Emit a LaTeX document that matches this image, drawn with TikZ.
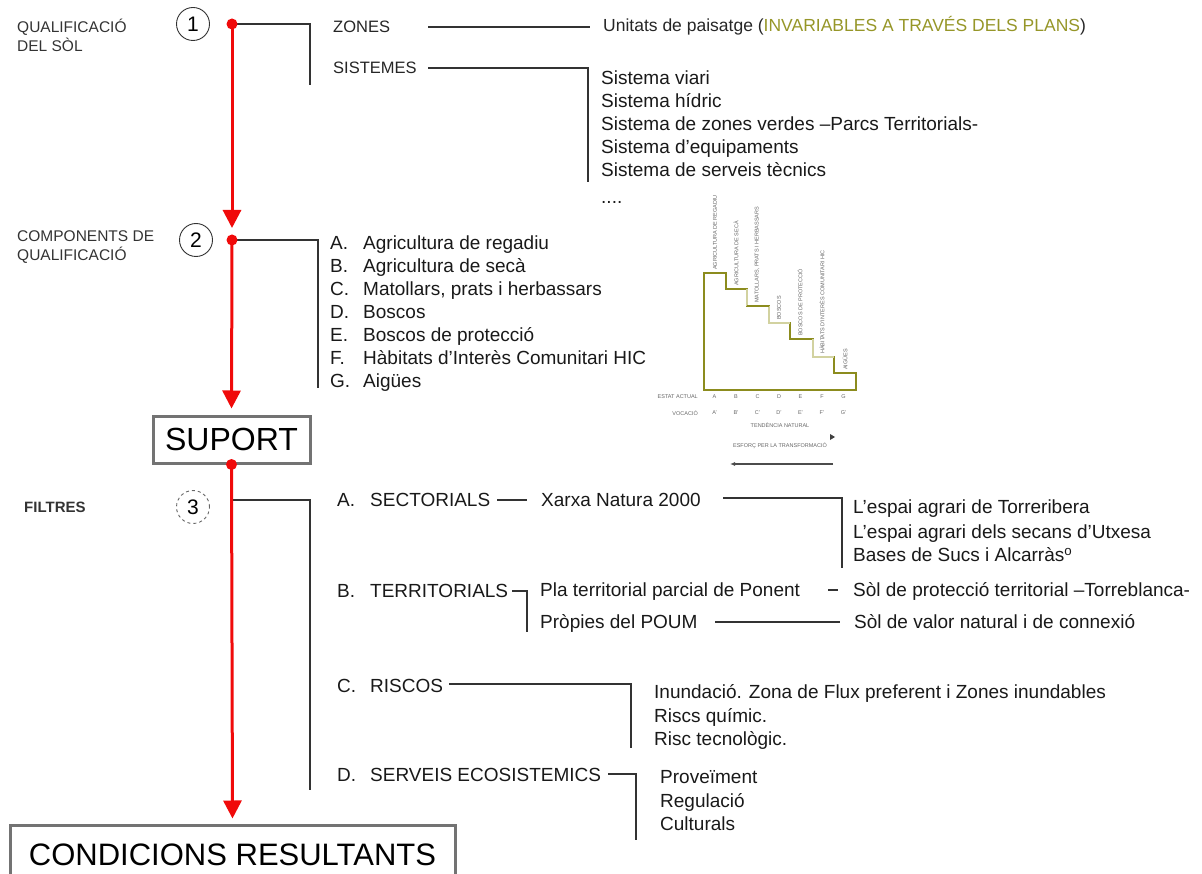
\documentclass[tikz,border=0pt]{standalone}
\usepackage{fontspec}
\setmainfont{Liberation Sans}
\usetikzlibrary{arrows.meta, positioning, calc}
\definecolor{flowred}{RGB}{240,10,10}
\definecolor{olivedark}{RGB}{140,140,30}
\definecolor{olivelight}{RGB}{210,210,160}
\definecolor{olivetext}{RGB}{150,150,40}
\definecolor{boxgray}{RGB}{115,115,115}
\tikzset{
  txt/.style={font=\fontsize{19}{21}\selectfont, inner sep=0pt, anchor=west, text=black!90, text height=13.6pt, text depth=0pt},
  smalltxt/.style={font=\fontsize{16.5}{18}\selectfont, inner sep=0pt, anchor=west, text=black!85, text height=11.8pt, text depth=0pt},
  head/.style={font=\fontsize{15.5}{19}\selectfont, inner sep=0pt, anchor=west, align=left, text=black!80},
  numcirc/.style={circle, draw=black!80, line width=0.9pt, minimum size=33pt, inner sep=0pt, font=\fontsize{21}{21}\selectfont},
  flow/.style={draw=flowred, line width=3pt, -{Triangle[length=18pt,width=18pt]}},
  reddot/.style={circle, fill=flowred, inner sep=0pt, minimum size=11pt},
  link/.style={draw=black!80, line width=1.1pt},
  bigbox/.style={draw=boxgray, line width=3pt, inner sep=0pt},
  tinytxt/.style={font=\fontsize{5.5}{6}\selectfont, inner sep=0pt, text=black!60},
  stepline/.style={draw=olivedark, line width=1.6pt},
}
\begin{document}
\begin{tikzpicture}[x=1pt, y=-1pt]
    \useasboundingbox (0,0) rectangle (1202,874);

    % Level 1: qualificacio del sol
    \node[head] (qualif) at (17,35) {QUALIFICACIÓ\\DEL SÒL};
    \node[numcirc] (c1) at (193,24) {1};
    \coordinate (d1) at (232,24);
    \coordinate (b1) at (310,85);
    \draw[link] (d1) -| (b1);
    \node[smalltxt] (zones) at (333,27) {ZONES};
    \node[smalltxt, font=\fontsize{17.5}{19}\selectfont, text height=12.5pt] (unitats) at (603,25) {Unitats de paisatge (\textcolor{olivetext}{INVARIABLES A TRAVÉS DELS PLANS})};
    \draw[link] ([xshift=95pt]zones.west) -- ([xshift=-13pt]unitats.west |- zones.west);
    \node[smalltxt] (sistemes) at (333,68) {SISTEMES};
    \coordinate (s1) at (588,182);
    \draw[link] ([xshift=95pt]sistemes.west) -| (s1);
    % Sistemes list
    \foreach \t [count=\i] in {Sistema viari, Sistema hídric, Sistema de zones verdes –Parcs Territorials-, Sistema d’equipaments, Sistema de serveis tècnics} {
        \node[txt] (sys\i) at (601,55+23*\i) {\t};
    }
    \node[txt] (sysdots) at (601,197) {....};

    % Level 2: components de qualificacio
    \node[head] (comp) at (17,247) {COMPONENTS DE\\QUALIFICACIÓ};
    \node[numcirc] (c2) at (196,240) {2};
    \coordinate (d2) at (232,240);
    \coordinate (b2) at (318,388);
    \draw[link] (d2) -| (b2);
    \foreach \l/\t [count=\i] in {A/Agricultura de regadiu, B/Agricultura de secà, C/{Matollars, prats i herbassars}, D/Boscos, E/Boscos de protecció, F/Hàbitats d’Interès Comunitari HIC, G/Aigües} {
        \node[txt] (let\i) at (330,220+23*\i) {\l.};
        \node[txt] (comp\i) at (363,220+23*\i) {\t};
    }

    % Step chart
    \draw[stepline] (704,273) -- (726,273) -- (726,289) -- (747,289) -- (747,306) -- (769,306)
        -- (769,323) -- (790,323) -- (790,339) -- (813,339) -- (813,357) -- (834,357)
        -- (834,373) -- (856,373) -- (856,390) -- (704,390) -- cycle;
    \draw[olivelight, line width=1.6pt] (747,289) -- (747,306);
    \draw[olivelight, line width=1.6pt] (769,306) -- (769,323) -- (790,323);
    \draw[olivelight, line width=1.6pt] (813,339) -- (813,357) -- (834,357);
    \draw[olivedark, line width=2.4pt] (747,306) -- (769,306);
    \draw[olivedark, line width=2.4pt] (834,373) -- (856,373);
    \foreach \x/\y/\t in {715/270/AGRICULTURA DE REGADIU, 736/286/AGRICULTURA DE SECÀ, 757/303/{MATOLLARS, PRATS I HERBASSARS}, 779/320/BOSCOS, 800/336/BOSCOS DE PROTECCIÓ, 822/354/HÀBITATS D’INTERÈS COMUNITARI HIC, 845/370/AIGÜES} {
        \node[tinytxt, rotate=90, anchor=west] at (\x,\y) {\t};
    }
    \node[tinytxt, anchor=east] (estat) at (698,397) {ESTAT ACTUAL};
    \node[tinytxt, anchor=east] (vocacio) at (698,413) {VOCACIÓ};
    \foreach \l [count=\i] in {A,B,C,D,E,F,G} {
        \node[tinytxt] at (693+21.5*\i,397) {\l};
        \node[tinytxt] at (693+21.5*\i,413) {\l'};
    }
    \node[tinytxt] (tend) at (780,425) {TENDÈNCIA NATURAL};
    \fill[black!75] (830,434) -- (835,437) -- (830,440) -- cycle;
    \node[tinytxt] (esforc) at (780,446) {ESFORÇ PER LA TRANSFORMACIÓ};
    \draw[black!70, line width=1.2pt, -{Latex[length=5pt,width=4pt]}] (833,464) -- (730,464);

    % Suport box
    \node[bigbox, minimum width=157pt, minimum height=47pt, font=\fontsize{32}{32}\selectfont] (suport) at (231.5,439.5) {SUPORT};

    % Level 3: filtres
    \node[head, font=\bfseries\fontsize{15}{17}\selectfont] (filtres) at (24,507) {FILTRES};
    \node[numcirc, dashed, draw=black!60] (c3) at (193,507) {3};
    \coordinate (f0) at (232,500);
    \coordinate (fb) at (310,790);
    \draw[link] (f0) -| (fb);

    % A. sectorials
    \node[txt] (fa) at (337,500) {A.};
    \node[txt] (sect) at (370,500) {SECTORIALS};
    \node[txt] (xarxa) at (541,500) {Xarxa Natura 2000};
    \draw[link] ([xshift=127pt]sect.west) -- ([xshift=-14pt]xarxa.west);
    \coordinate (sb) at (842,568);
    \draw[link] ([xshift=182pt, yshift=2pt]xarxa.west) -| (sb);
    \foreach \t/\y in {L’espai agrari de Torreribera/507, L’espai agrari dels secans d’Utxesa/532, Bases de Sucs i Alcarràs\textsuperscript{o}/555} {
        \node[txt] at (853,\y) {\t};
    }

    % B. territorials
    \node[txt] (fb2) at (337,591) {B.};
    \node[txt] (terr) at (370,591) {TERRITORIALS};
    \coordinate (tb) at (527,632);
    \draw[link] ([xshift=142pt]terr.west) -| (tb);
    \node[txt] (pla) at (540,590) {Pla territorial parcial de Ponent};
    \node[txt] (protec) at (853,590) {Sòl de protecció territorial –Torreblanca-};
    \draw[link] ([xshift=-25pt]protec.west) -- ([xshift=-15pt]protec.west);
    \node[txt] (poum) at (540,622) {Pròpies del POUM};
    \node[txt] (valor) at (854,622) {Sòl de valor natural i de connexió};
    \draw[link] ([xshift=175pt]poum.west) -- ([xshift=-14pt]valor.west);

    % C. riscos
    \node[txt] (fc) at (337,686) {C.};
    \node[txt] (riscos) at (370,686) {RISCOS};
    \coordinate (rb) at (631,748);
    \draw[link] ([xshift=79pt, yshift=2pt]riscos.west) -| (rb);
    \foreach \t/\y in {Inundació. Zona de Flux preferent i Zones inundables/692, Riscs químic./716, Risc tecnològic./739} {
        \node[txt] at (654,\y) {\t};
    }

    % D. serveis ecosistemics
    \node[txt] (fd) at (337,775) {D.};
    \node[txt] (serveis) at (370,775) {SERVEIS ECOSISTEMICS};
    \coordinate (eb) at (636,840);
    \draw[link] ([xshift=238pt, yshift=1pt]serveis.west) -| (eb);
    \foreach \t/\y in {Proveïment/777, Regulació/801, Culturals/824} {
        \node[txt] at (660,\y) {\t};
    }

    % Resulting conditions box
    \node[bigbox, minimum width=445pt, minimum height=60pt, font=\fontsize{31}{31}\selectfont] (cond) at (232.5,855) {CONDICIONS RESULTANTS};

    % Red flow
    \draw[flow, shorten >=12pt] (d1) -- (d2);
    \draw[flow, shorten >=6pt] (d2) -- (suport.north);
    \draw[flow, shorten >=5pt] (suport.south) -- (cond.north);
    \node[reddot] at (d1) {};
    \node[reddot] at (d2) {};
    \node[reddot] at (suport.south) {};
\end{tikzpicture}
\end{document}
